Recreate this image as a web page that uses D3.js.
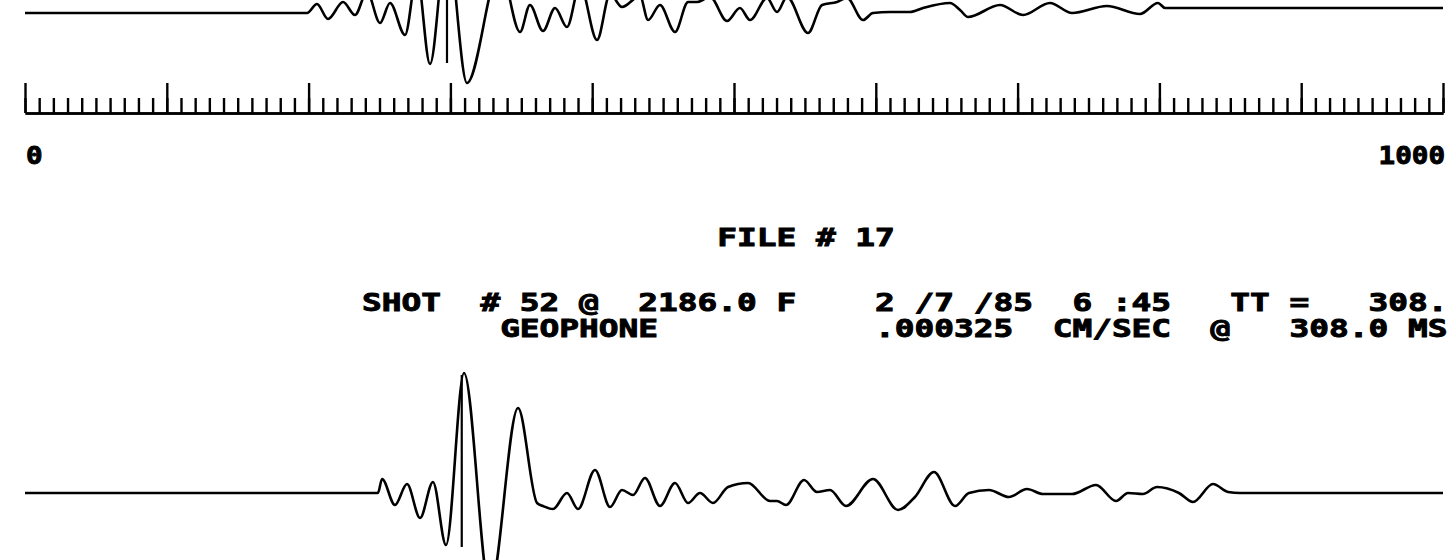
<!DOCTYPE html>
<html>
<head>
<meta charset="utf-8">
<script src="https://cdn.jsdelivr.net/npm/d3@7"></script>
<style>
body { margin: 0; background: #fff; }
svg { display: block; }
.plot { font-family: "DejaVu Sans Mono", monospace; font-weight: bold; fill: #000; stroke: #000; stroke-width: 0.9px; }
</style>
</head>
<body>
<div id="chart"></div>
<script>

var W = 1449, H = 560;

// time axis (ms)
var timeDomain = [0, 1000];
var minorTicks = d3.range(0, 1001, 10);
var majorTicks = d3.range(0, 1001, 100);
var axisLabels = ["0", "1000"];

// header text, fixed columns like the plotter wrote them
var fileTitle = "                  FILE # 17";
var headerLine1 = "SHOT  # 52 @  2186.0 F    2 /7 /85  6 :45   TT =   308.";
var headerLine2 = "       GEOPHONE           .000325  CM/SEC  @   308.0 MS";

// previous trace (top, cut by the page edge): [ms, amplitude]
var traceTop = [
  [0, 0], [198.9, 0], [205.9, 9], [213.7, -6], [224.3, 11], [232.7, -2],
  [241.2, 21], [250.4, -10], [257.4, 10], [268.0, -22], [276.4, 38], [285.6, -51],
  [297.6, 75], [311.7, -70], [335.0, 45], [349.1, -19], [356.1, 8], [365.3, -18],
  [373.8, 5], [382.2, -14], [391.4, 28], [403.4, -27], [412.6, 19], [421.0, 6],
  [433.7, 17], [439.4, -7], [447.8, 8], [458.4, -19], [467.6, 11], [473.9, 11],
  [483.1, 16], [495.1, -8], [504.2, 5], [511.3, -7], [523.3, 15], [530.3, 1],
  [537.4, 16], [552.2, -20], [562.1, 8], [572.6, 11], [579.7, 15], [591.0, -7],
  [598.0, 0], [610.0, 1], [624.1, 1], [633.3, 5], [652.3, 10], [659.4, 3],
  [665.0, -4], [687.6, 8], [703.8, -2], [722.8, 10], [738.4, 0], [763.0, 7],
  [786.3, -1], [799.0, 10], [804.0, 5], [1000, 5]
];
var topMark = { ms: 297.6, hi: 75, lo: -50 };

// file 17 geophone trace: [ms, amplitude]
var traceBottom = [
  [0, 0], [248.9, 0], [251.8, 14], [260.9, -12], [269.4, 9], [278.6, -25],
  [287.7, 11], [296.9, -52], [309.6, 120], [327.9, -97], [347.7, 85], [361.1, -10],
  [365.3, -13], [372.4, -16], [382.2, 0], [390.0, -16], [402.0, 23], [412.6, -14],
  [421.0, 3], [428.8, -2], [437.2, 15], [447.8, -13], [458.4, 10], [467.6, -10],
  [476.0, 0], [485.2, -10], [495.8, 6], [509.9, 10], [525.4, -8], [530.3, -8],
  [536.7, -12], [549.4, 13], [558.5, 1], [567.7, 3], [579.0, -13], [598.0, 14],
  [615.7, -17], [627.6, -4], [641.0, 21], [655.9, -13], [665.7, 0], [679.8, 3],
  [693.9, -4], [706.6, 4], [717.9, -1], [738.4, -1], [755.3, 8], [769.4, -8],
  [777.9, 0], [788.4, -1], [798.3, 6], [813.8, 0], [823.7, -9], [837.8, 9],
  [848.4, 1], [857.0, 0], [1000, 0]
];
var bottomMark = { ms: 308, hi: 118, lo: -54 };


var svg = d3.select("#chart")
  .append("svg")
  .attr("width", W)
  .attr("height", H);

svg.append("rect")
  .attr("width", W)
  .attr("height", H)
  .attr("fill", "#fff");

var x = d3.scaleLinear().domain(timeDomain).range([25, 1443]);

// one amplitude unit = one pixel, each trace around its own zero line
var yTop = d3.scaleLinear().domain([-100, 100]).range([113, -87]);
var yBottom = d3.scaleLinear().domain([-100, 100]).range([593, 393]);

function drawTrace(data, y, mark) {
  var line = d3.line()
    .x(function(d) { return x(d[0]); })
    .y(function(d) { return y(d[1]); })
    .curve(d3.curveMonotoneX);

  svg.append("path")
    .datum(data)
    .attr("d", line)
    .attr("fill", "none")
    .attr("stroke", "#000")
    .attr("stroke-width", 2.6)
    .attr("stroke-linejoin", "round");

  // travel time marker
  svg.append("line")
    .attr("x1", x(mark.ms))
    .attr("x2", x(mark.ms))
    .attr("y1", y(mark.hi))
    .attr("y2", y(mark.lo))
    .attr("stroke", "#000")
    .attr("stroke-width", 2.2);
}

drawTrace(traceTop, yTop, topMark);
drawTrace(traceBottom, yBottom, bottomMark);


// time scale: minor ticks every 10 ms, tall ones every 100 ms
var axisY = 113;

var minorAxis = d3.axisTop(x)
  .tickValues(minorTicks)
  .tickSize(15)
  .tickSizeOuter(0)
  .tickFormat("");

var majorAxis = d3.axisTop(x)
  .tickValues(majorTicks)
  .tickSize(30)
  .tickSizeOuter(0)
  .tickFormat("");

svg.append("g")
  .attr("transform", "translate(0," + axisY + ")")
  .call(minorAxis);

svg.append("g")
  .attr("transform", "translate(0," + axisY + ")")
  .call(majorAxis);

svg.selectAll(".domain, .tick line")
  .attr("stroke", "#000")
  .attr("stroke-width", 2.4);


// labels under the scale
var fs = 24;
var pitch = 19.75;
var sx = pitch / (0.6021 * fs);

svg.append("text")
  .attr("class", "plot")
  .attr("transform", "translate(" + (x(0) + 1) + ",164) scale(1.15,1)")
  .style("font-size", fs + "px")
  .text(axisLabels[0]);

svg.append("text")
  .attr("class", "plot")
  .attr("text-anchor", "end")
  .attr("transform", "translate(" + (x(1000) + 2) + ",164) scale(1.15,1)")
  .style("font-size", fs + "px")
  .text(axisLabels[1]);


// header block
var textLeft = 362;
var headerRows = [
  { str: fileTitle, base: 246 },
  { str: headerLine1, base: 311 },
  { str: headerLine2, base: 337 }
];

svg.selectAll("text.hdr")
  .data(headerRows)
  .enter()
  .append("text")
  .attr("class", "plot hdr")
  .attr("transform", function(d) { return "translate(" + textLeft + "," + d.base + ") scale(" + sx + ",1)"; })
  .style("font-size", fs + "px")
  .style("white-space", "pre")
  .attr("xml:space", "preserve")
  .text(function(d) { return d.str; });

</script>
</body>
</html>
